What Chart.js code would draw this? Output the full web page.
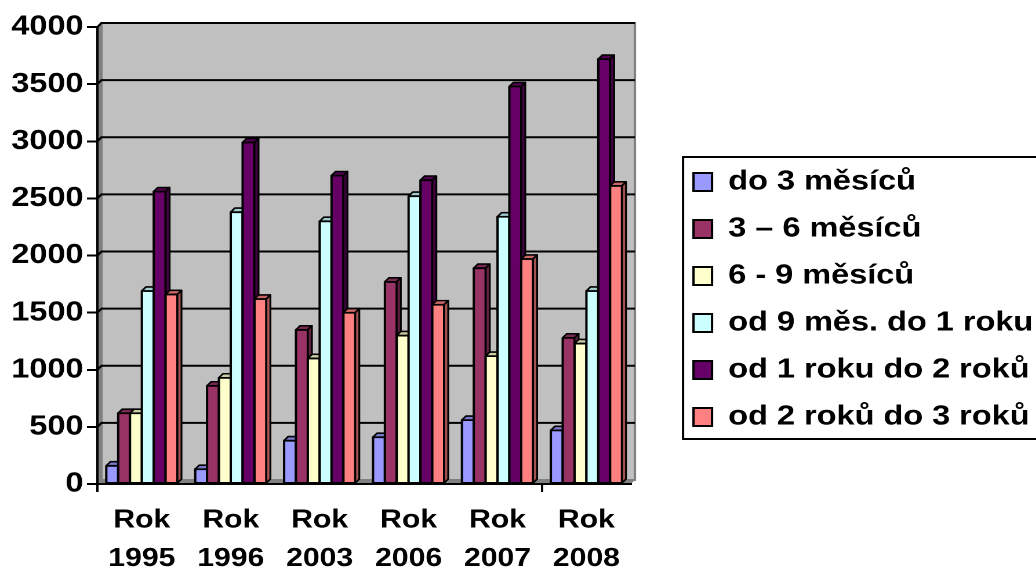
<!DOCTYPE html>
<html>
<head>
<meta charset="utf-8">
<script src="https://cdn.jsdelivr.net/npm/chart.js@4.4.1/dist/chart.umd.min.js"></script>
<style>
  html, body { margin: 0; padding: 0; background: #fff; overflow: hidden; }
  #chart { display: block; }
</style>
</head>
<body>
<!-- the reference is stretched sideways, so the canvas is drawn narrower and widened with css -->
<canvas id="chart" width="940" height="572" style="width:1090px;height:572px"></canvas>
<script>
// Data
const categories = [['Rok', '1995'], ['Rok', '1996'], ['Rok', '2003'], ['Rok', '2006'], ['Rok', '2007'], ['Rok', '2008']];
const seriesNames = ['do 3 měsíců', '3 – 6 měsíců', '6 - 9 měsíců', 'od 9 měs. do 1 roku', 'od 1 roku do 2 roků', 'od 2 roků do 3 roků'];
const do3mes   = [160, 130, 380, 410, 560, 470];
const mes3to6  = [620, 860, 1350, 1770, 1890, 1280];
const mes6to9  = [620, 930, 1100, 1300, 1120, 1230];
const mes9to12 = [1690, 2380, 2300, 2520, 2340, 1690];
const rok1to2  = [2560, 2990, 2700, 2660, 3480, 3720];
const rok2to3  = [1660, 1620, 1500, 1570, 1970, 2610];
const yTicks   = [0, 500, 1000, 1500, 2000, 2500, 3000, 3500, 4000];

const colors = ['#9999FF', '#993366', '#FFFFCC', '#CCFFFF', '#660066', '#FF8080'];
const allSeries = [do3mes, mes3to6, mes6to9, mes9to12, rok1to2, rok2to3];

const FONT = '"Liberation Sans", Arial, sans-serif';
const DX = 3.5, DY = 4; // depth of the fake 3d

function shade(hex, f) {
    const n = parseInt(hex.slice(1), 16);
    const r = Math.round(((n >> 16) & 255) * f);
    const g = Math.round(((n >> 8) & 255) * f);
    const b = Math.round((n & 255) * f);
    return `rgb(${r},${g},${b})`;
}

function poly(ctx, pts, fill, stroke, lw) {
    ctx.beginPath();
    ctx.moveTo(pts[0][0], pts[0][1]);
    for (let i = 1; i < pts.length; i++) ctx.lineTo(pts[i][0], pts[i][1]);
    ctx.closePath();
    if (fill) { ctx.fillStyle = fill; ctx.fill(); }
    if (stroke) { ctx.strokeStyle = stroke; ctx.lineWidth = lw; ctx.stroke(); }
}

// walls, floor and back gridlines
const wallsPlugin = {
    id: 'walls',
    beforeDraw(chart) {
        const {ctx, chartArea: a} = chart;
        ctx.save();
        poly(ctx, [[a.left + DX, a.top - DY], [a.right + DX, a.top - DY], [a.right + DX, a.bottom - DY], [a.left + DX, a.bottom - DY]], '#C0C0C0', '#808080', 2);
        poly(ctx, [[a.left, a.top], [a.left + DX, a.top - DY], [a.left + DX, a.bottom - DY], [a.left, a.bottom]], '#808080');
        poly(ctx, [[a.left, a.bottom], [a.left + DX, a.bottom - DY], [a.right + DX, a.bottom - DY], [a.right, a.bottom]], '#808080');
        ctx.restore();
    },
    beforeDatasetsDraw(chart) {
        const {ctx, chartArea: a, scales: {y}} = chart;
        ctx.save();
        ctx.strokeStyle = '#000';
        ctx.lineWidth = 2;
        y.ticks.forEach(t => {
            if (t.value === 0) return;
            const py = y.getPixelForValue(t.value);
            ctx.beginPath();
            ctx.moveTo(a.left, py);
            ctx.lineTo(a.left + DX, py - DY);
            ctx.lineTo(a.right + DX, py - DY);
            ctx.stroke();
        });
        ctx.restore();
    }
};

// redraw the bars left to right with top and side faces
const bars3dPlugin = {
    id: 'bars3d',
    afterDatasetsDraw(chart) {
        const ctx = chart.ctx;
        ctx.save();
        ctx.lineJoin = 'round';
        chart.data.datasets.forEach((ds, i) => {
            const meta = chart.getDatasetMeta(i);
            meta.data.forEach(bar => {
                const {x, y, base, width} = bar.getProps(['x', 'y', 'base', 'width'], true);
                const l = x - width / 2, r = x + width / 2;
                poly(ctx, [[l, y], [r, y], [r, base], [l, base]], ds.backgroundColor, '#000', 2);
                poly(ctx, [[l, y], [l + DX, y - DY], [r + DX, y - DY], [r, y]], shade(ds.backgroundColor, 0.8), '#000', 1.6);
                poly(ctx, [[r, y], [r + DX, y - DY], [r + DX, base - DY], [r, base]], shade(ds.backgroundColor, 0.65), '#000', 1.6);
            });
        });
        ctx.restore();
    }
};

// frame around the legend, running off the right edge like the original
const legendFramePlugin = {
    id: 'legendFrame',
    afterDraw(chart) {
        const lg = chart.legend;
        if (!lg || !lg.legendHitBoxes.length) return;
        const hb = lg.legendHitBoxes;
        const top = hb[0].top - 11;
        const bottom = hb[hb.length - 1].top + hb[hb.length - 1].height + 8;
        const left = hb[0].left - 9;
        const ctx = chart.ctx;
        ctx.save();
        ctx.strokeStyle = '#000';
        ctx.lineWidth = 2;
        ctx.strokeRect(left, top, chart.width - left + 20, bottom - top);
        ctx.restore();
    }
};

const datasets = allSeries.map((vals, i) => ({
    label: seriesNames[i],
    data: vals,
    backgroundColor: colors[i],
    borderColor: '#000',
    borderWidth: 2,
    categoryPercentage: 0.8,
    barPercentage: 1.0
}));

new Chart(document.getElementById('chart'), {
    type: 'bar',
    data: { labels: categories, datasets: datasets },
    plugins: [wallsPlugin, bars3dPlugin, legendFramePlugin],
    options: {
        responsive: false,
        animation: false,
        devicePixelRatio: 2,
        layout: { padding: { top: 27, right: 39, bottom: 0, left: 0 } },
        plugins: {
            tooltip: { enabled: false },
            legend: {
                position: 'right',
                align: 'center',
                maxWidth: 420,
                labels: {
                    color: '#000',
                    boxWidth: 16,
                    boxHeight: 18,
                    padding: 19,
                    font: { family: FONT, size: 28, weight: 'bold', lineHeight: 1.2 }
                }
            }
        },
        scales: {
            x: {
                // only the first and the 2007/2008 tick marks show in the original
                grid: {
                    display: true,
                    offset: true,
                    drawOnChartArea: false,
                    drawTicks: true,
                    tickLength: 8,
                    lineWidth: 2,
                    color: c => (c.index === 0 || c.index === 5) ? '#000' : 'rgba(0,0,0,0)'
                },
                border: { display: true, color: '#000', width: 2 },
                ticks: {
                    color: '#000',
                    padding: 9,
                    maxRotation: 0,
                    autoSkip: false,
                    font: { family: FONT, size: 26, weight: 'bold', lineHeight: 1.48 }
                },
                afterFit(s) { s.height = 88; }
            },
            y: {
                min: 0,
                max: 4000,
                afterBuildTicks(s) { s.ticks = yTicks.map(v => ({ value: v })); },
                grid: { drawOnChartArea: false, color: '#000', lineWidth: 2, tickLength: 9 },
                border: { display: true, color: '#000', width: 2 },
                ticks: {
                    color: '#000',
                    padding: 3,
                    callback: v => String(v),
                    font: { family: FONT, size: 28, weight: 'bold' }
                },
                afterFit(s) { s.width = 84; }
            },
            // empty axis, only keeps the gap between the plot and the legend
            gap: {
                position: 'right',
                display: true,
                grid: { display: false },
                border: { display: false },
                ticks: { display: false },
                afterFit(s) { s.width = 35; }
            }
        }
    }
});
</script>
</body>
</html>
